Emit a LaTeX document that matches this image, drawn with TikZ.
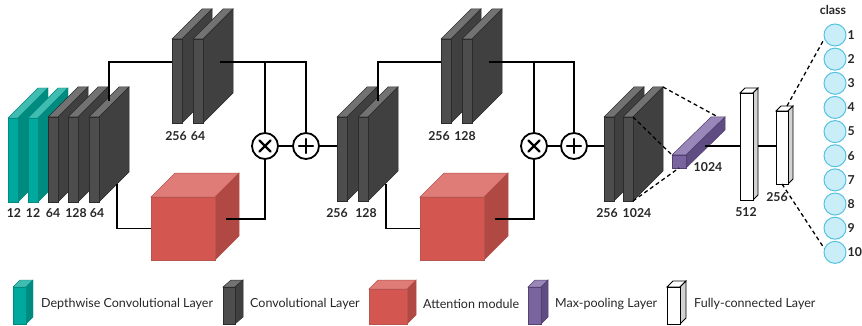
\documentclass[tikz,border=0pt]{standalone}
\usepackage{fontspec}
\setmainfont{Lato}
\definecolor{tealF}{HTML}{00A99D}
\definecolor{tealT}{HTML}{40BCB1}
\definecolor{tealS}{HTML}{008B80}
\definecolor{convFc}{HTML}{4D4D4D}
\definecolor{convTc}{HTML}{727272}
\definecolor{convSc}{HTML}{404040}
\definecolor{convE}{HTML}{2C2C2C}
\definecolor{attFc}{HTML}{D35650}
\definecolor{attTc}{HTML}{E07C77}
\definecolor{attSc}{HTML}{B04943}
\definecolor{attE}{HTML}{B85450}
\definecolor{poolFc}{HTML}{7A64A0}
\definecolor{poolTc}{HTML}{9A87BA}
\definecolor{poolSc}{HTML}{5F4C82}
\definecolor{poolE}{HTML}{514070}
\definecolor{fcSc}{HTML}{D2D2D2}
\definecolor{clsF}{HTML}{C9EEF8}
\definecolor{clsE}{HTML}{55C3E0}
\newcommand{\prism}[8]{%
  \draw[#8T] ({#2},{#3}) -- ({#2+#6},{#3-#7}) -- ({#2+#4+#6},{#3-#7}) -- ({#2+#4},{#3}) -- cycle;
  \draw[#8S] ({#2+#4},{#3}) -- ({#2+#4+#6},{#3-#7}) -- ({#2+#4+#6},{#3+#5-#7}) -- ({#2+#4},{#3+#5}) -- cycle;
  \draw[#8F] ({#2},{#3}) rectangle ({#2+#4},{#3+#5});
  \node[inner sep=0pt, outer sep=0pt, minimum width={#4}, minimum height={#5}] (#1) at ({#2+#4/2},{#3+#5/2}) {};
  \coordinate (#1-tbr) at ({#2+#4+#6},{#3-#7});
  \coordinate (#1-tb) at ({#2+#4/2+#6},{#3-#7});
}
\tikzset{
  tealF/.style={fill=tealF, draw=tealS, line width=0.4pt},
  tealT/.style={fill=tealT, draw=tealS, line width=0.4pt},
  tealS/.style={fill=tealS, draw=tealS, line width=0.4pt},
  convF/.style={fill=convFc, draw=convE, line width=0.5pt},
  convT/.style={fill=convTc, draw=convE, line width=0.5pt},
  convS/.style={fill=convSc, draw=convE, line width=0.5pt},
  attF/.style={fill=attFc, draw=attE, line width=0.5pt},
  attT/.style={fill=attTc, draw=attE, line width=0.5pt},
  attS/.style={fill=attSc, draw=attE, line width=0.5pt},
  poolF/.style={fill=poolFc, draw=poolE, line width=0.5pt},
  poolT/.style={fill=poolTc, draw=poolE, line width=0.5pt},
  poolS/.style={fill=poolSc, draw=poolE, line width=0.5pt},
  fcF/.style={fill=white, draw=black, line width=0.8pt},
  fcT/.style={fill=white, draw=black, line width=0.8pt},
  fcS/.style={fill=fcSc, draw=black, line width=0.8pt},
  conn/.style={line width=1.4pt, black},
  dsh/.style={line width=1.3pt, black, dash pattern=on 4pt off 3pt},
  opc/.style={circle, draw=black, line width=1.8pt, minimum size=26pt, inner sep=0pt, fill=white},
  sym/.style={line width=2.2pt, line cap=round},
  cls/.style={circle, draw=clsE, fill=clsF, line width=1pt, minimum size=22pt, inner sep=0pt},
  lbl/.style={font=\fontsize{12.3}{14}\selectfont\bfseries, text=black!85, inner sep=0pt},
  leg/.style={font=\fontsize{12.5}{14}\selectfont, text=black!85, anchor=west, inner sep=0pt},
}
\begin{document}
\begin{tikzpicture}[x=1pt, y=-1pt]
\useasboundingbox (0,0) rectangle (862,326);
% ---- block 1
\prism{d1}{8}{118}{10}{84}{30}{30}{teal}
\prism{d2}{28}{118}{10}{84}{30}{30}{teal}
\prism{c1}{48}{117}{10}{85}{30}{30}{conv}
\prism{c2}{68}{117}{10}{85}{30}{30}{conv}
\prism{c3}{89}{117}{10}{85}{30}{30}{conv}
% ---- block 2
\prism{b2a}{172}{39}{10}{84}{30}{30}{conv}
\prism{b2b}{193}{39}{10}{84}{30}{30}{conv}
% ---- block 3
\prism{b3a}{337}{117}{10}{84}{30}{30}{conv}
\prism{b3b}{358}{117}{10}{84}{30}{30}{conv}
% ---- block 4
\prism{b4a}{441}{39}{10}{84}{30}{30}{conv}
\prism{b4b}{462}{39}{10}{84}{30}{30}{conv}
% ---- block 5
\prism{b5a}{604}{117}{10}{84}{30}{30}{conv}
\prism{b5b}{623}{117}{10}{84}{30}{30}{conv}
% ---- attention
\prism{att1}{151}{197}{64}{63}{24}{24}{att}
\prism{att2}{420}{197}{64}{63}{24}{24}{att}
% ---- pooling and fc
\prism{pool}{672}{155}{14}{13}{39}{38}{pool}
\prism{fc1}{740}{93}{13}{107}{5}{5}{fc}
\prism{fc2}{776}{111}{12}{73}{5}{5}{fc}
% ---- operators
\node[opc] (mul1) at (265,146) {};
\node[opc] (add1) at (306,146) {};
\node[opc] (mul2) at (534,146) {};
\node[opc] (add2) at (574,146) {};
\foreach \m in {mul1,mul2}{
  \draw[sym] ([shift={(-5.5,-5.5)}]\m.center) -- ([shift={(5.5,5.5)}]\m.center)
             ([shift={(-5.5,5.5)}]\m.center) -- ([shift={(5.5,-5.5)}]\m.center);
}
\foreach \m in {add1,add2}{
  \draw[sym] ([shift={(-7,0)}]\m.center) -- ([shift={(7,0)}]\m.center)
             ([shift={(0,-7)}]\m.center) -- ([shift={(0,7)}]\m.center);
}
% ---- connector points
\coordinate (b1t) at (109,101);
\coordinate (b1b) at (117,184);
\coordinate (b2in) at (172,62);
\coordinate (b2out) at (220,62);
\coordinate (a1out) at (226,219);
\coordinate (b3t) at (378,101);
\coordinate (b3b) at (386,184);
\coordinate (b4in) at (441,62);
\coordinate (b4out) at (489,62);
\coordinate (a2out) at (495,219);
\coordinate (pout) at (705,146);
\coordinate (f1out) at (758,146);
% ---- connectors
\draw[conn] (b1t) |- (b2in);
\draw[conn] (b1b) |- (att1.west);
\draw[conn] (b2out) -| (add1.north);
\draw[conn] (mul1.north) -- (mul1.north |- b2out);
\draw[conn] (a1out) -| (mul1.south);
\draw[conn] (mul1.east) -- (add1.west);
\draw[conn] (add1.east) -- (b3a.west |- add1);
\draw[conn] (b3t) |- (b4in);
\draw[conn] (b3b) |- (att2.west);
\draw[conn] (b4out) -| (add2.north);
\draw[conn] (mul2.north) -- (mul2.north |- b4out);
\draw[conn] (a2out) -| (mul2.south);
\draw[conn] (mul2.east) -- (add2.west);
\draw[conn] (add2.east) -- (b5a.west |- add2);
\draw[conn] (pout) -- (fc1.west |- pout);
\draw[conn] (f1out) -- (fc2.west |- f1out);
\draw[dsh] (b5b-tbr) -- (pool-tb);
\draw[dsh] (b5b.north east) -- (pool.north west);
\draw[dsh] (b5b.south east) -- (pool.south);
% ---- classes
\node[lbl] (cl) at (833,10) {class};
\foreach \i in {1,...,10}{
  \node[cls] (k\i) at (835,{35+24.15*(\i-1)}) {};
  \node[lbl, anchor=west] (n\i) at (847.5,{35+24.15*(\i-1)}) {\i};
}
\draw[dsh] (fc2-tb) -- (k1.200);
\draw[dsh] (fc2.south) -- (k10.160);
% ---- labels
\node[lbl] (l1a) at (14,213) {12};
\node[lbl] (l1b) at (33,213) {12};
\node[lbl] (l1c) at (53,213) {64};
\node[lbl] (l1d) at (76,213) {128};
\node[lbl] (l1e) at (97,213) {64};
\node[lbl] (l2a) at (176,136) {256};
\node[lbl] (l2b) at (198,136) {64};
\node[lbl] (l3a) at (337,213) {256};
\node[lbl] (l3b) at (366,213) {128};
\node[lbl] (l4a) at (439,136) {256};
\node[lbl] (l4b) at (465,136) {128};
\node[lbl] (l5a) at (607,213) {256};
\node[lbl] (l5b) at (637,213) {1024};
\node[lbl] (lp) at (708,167) {1024};
\node[lbl] (lf1) at (746,212) {512};
\node[lbl] (lf2) at (777,197) {256};
% ---- legend
\prism{g1}{13}{287}{13}{37}{7}{7}{teal}
\prism{g2}{223}{287}{12}{37}{8}{7}{conv}
\prism{g3}{369}{289}{38}{35}{9}{9}{att}
\prism{g4}{528}{287}{13}{37}{7}{7}{pool}
\prism{g5}{667}{287}{13}{37}{6}{6}{fc}
\node[leg] (t1) at (41,304) {Depthwise Convolutional Layer};
\node[leg] (t2) at (250,304) {Convolutional Layer};
\node[leg] (t3) at (423,304) {Attention module};
\node[leg] (t4) at (555,304) {Max-pooling Layer};
\node[leg] (t5) at (694,304) {Fully-connected Layer};
\end{tikzpicture}
\end{document}
